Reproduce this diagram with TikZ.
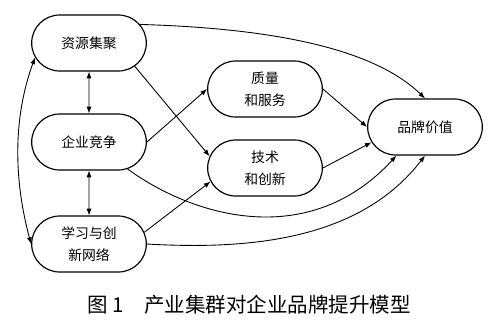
\documentclass[tikz,border=0pt]{standalone}
\usepackage{fontspec}
\setmainfont{Noto Sans CJK SC}
\usetikzlibrary{arrows.meta,shapes.misc}

\begin{document}
\begin{tikzpicture}[
  x=0.03cm, y=-0.03cm, >=Latex,
  blk/.style={
    draw, line width=1pt, rounded rectangle, rounded rectangle arc length=180,
    minimum width=3.51cm, minimum height=1.68cm, inner sep=1pt,
    align=center, font=\fontsize{11.8}{18.5}\selectfont
  },
  arr/.style={-{Latex[length=2mm,width=1.5mm]}, line width=0.75pt},
  biarr/.style={{Latex[length=2mm,width=1.5mm]}-{Latex[length=2mm,width=1.5mm]}, line width=0.75pt}
]
\useasboundingbox (0,0) rectangle (500,330);
\def\lx{89} \def\mx{265}

\node[blk] (zy) at (\lx,43)  {资源集聚};
\node[blk] (jz) at (\lx,142) {企业竞争};
\node[blk] (xx) at (\lx,244) {学习与创\\新网络};
\node[blk] (zl) at (\mx,89)  {质量\\和服务};
\node[blk] (js) at (\mx,168) {技术\\和创新};
\node[blk] (pp) at (425,127) {品牌价值};

% left column
\draw[biarr] (zy) -- (jz);
\draw[biarr] (jz) -- (xx);
\draw[biarr] (zy.195) to[out=250, in=105, looseness=0.9] (xx.180);

% to the middle column
\draw[arr] (zy.333) -- (js.168);
\draw[arr] (jz.east) -- (zl.west);
\draw[arr] (xx.12) -- (js.194);

% to brand value
\draw[arr] (zy.20) .. controls (260,28) and (370,45) .. (pp.north);
\draw[arr] (jz.325) .. controls (195,218) and (310,250) .. (pp.225);
\draw[arr] (xx.east) .. controls (250,250) and (360,240) .. (pp.south);
\draw[arr] (zl.east) -- (pp.west);
\draw[arr] (js.east) -- (pp.196);

\node[font=\fontsize{17.5}{20}\selectfont] (cap) at (249,305)
  {图 1\quad 产业集群对企业品牌提升模型};
\end{tikzpicture}
\end{document}
